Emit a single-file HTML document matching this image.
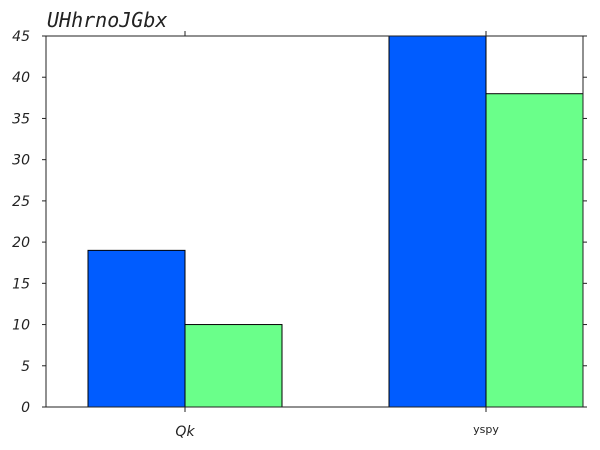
<!DOCTYPE html>
<html><head><meta charset="utf-8"><style>body{margin:0;background:#fff}svg{display:block}</style></head>
<body>
<svg id="c" width="600" height="450" xmlns="http://www.w3.org/2000/svg">
<text x="47" y="27" font-family="DejaVu Sans Mono, monospace" font-style="italic" font-size="20" fill="#222">UHhrnoJGbx</text>
<g id="bars"></g>
<g id="axes"></g>
</svg>
<script>
const categories = ["Qk", "yspy"];
const seriesA = [19, 45];
const seriesB = [10, 38];
const yTicks = [0, 5, 10, 15, 20, 25, 30, 35, 40, 45];
const NS = "http://www.w3.org/2000/svg";
const L = 46, R = 583, T = 36, B = 407, yMax = 45;
const y = v => B - v / yMax * (B - T);
const centers = [185, 486];
const bw = 97;
const xc = i => centers[i];
function mk(tag, attrs, parent) { const e = document.createElementNS(NS, tag); for (const k in attrs) e.setAttribute(k, attrs[k]); parent.appendChild(e); return e; }
const bars = document.getElementById("bars"), axes = document.getElementById("axes");
categories.forEach((c, i) => {
  const a = mk("rect", {x: xc(i) - bw, y: y(seriesA[i]), width: bw, height: B - y(seriesA[i]), fill: "#005cff", stroke: "#000", "stroke-width": 1}, bars);
  
  
  const b = mk("rect", {x: xc(i), y: y(seriesB[i]), width: bw, height: B - y(seriesB[i]), fill: "#6aff8a", stroke: "#000", "stroke-width": 1}, bars);
  
  
});
const frame = mk("rect", {x: L, y: T, width: R - L, height: B - T, fill: "none", stroke: "#222", "stroke-width": 1}, axes);


yTicks.forEach(v => {
  mk("line", {x1: L - 4, x2: L, y1: y(v), y2: y(v), stroke: "#222"}, axes);
  mk("line", {x1: R, x2: R + 4, y1: y(v), y2: y(v), stroke: "#222"}, axes);
  const t = mk("text", {x: L - 16, y: y(v) + 5, "text-anchor": "end", "font-family": "DejaVu Sans, sans-serif", "font-style": "italic", "font-size": 14, fill: "#222"}, axes);
  t.textContent = v;
  
  
});
categories.forEach((c, i) => {
  mk("line", {x1: xc(i), x2: xc(i), y1: B, y2: B + 5, stroke: "#222"}, axes);
  mk("line", {x1: xc(i), x2: xc(i), y1: T - 5, y2: T, stroke: "#222"}, axes);
  const t = mk("text", {x: xc(i), y: i === 0 ? 436 : 433, "text-anchor": "middle", "font-family": "DejaVu Sans, sans-serif", "font-style": i === 0 ? "italic" : "normal", "font-size": i === 0 ? 14 : 11, fill: "#222"}, axes);
  t.textContent = c;
  
  
});
</script>
</body></html>
